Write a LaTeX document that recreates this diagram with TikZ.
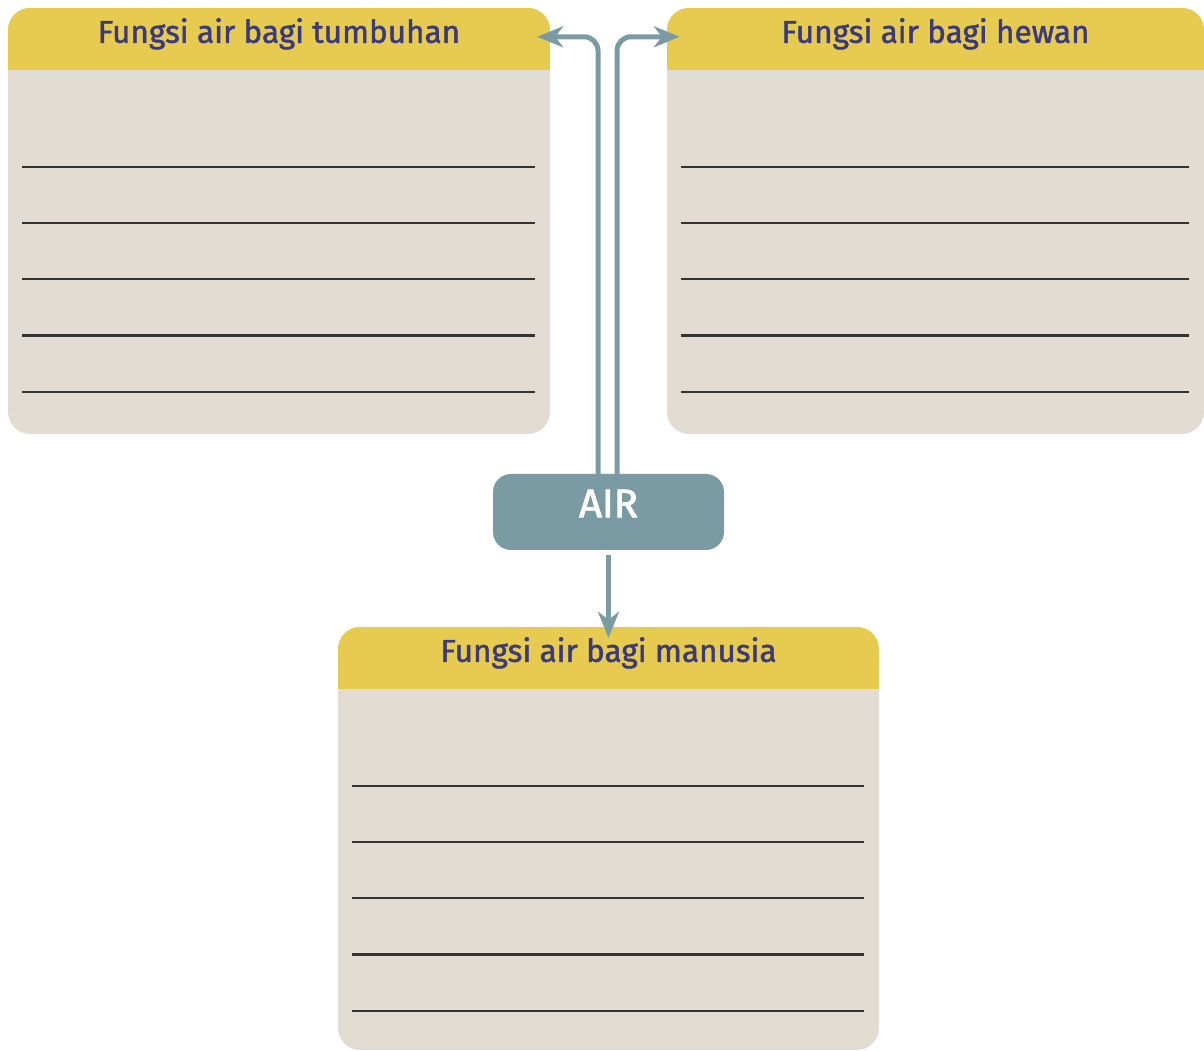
\documentclass[tikz,border=0pt]{standalone}
\usepackage{fontspec}
\setmainfont{Fira Sans}
\newfontfamily\tebal[FakeBold=1.5]{Fira Sans}
\newfontfamily\tebalair[FakeBold=2]{Fira Sans}
\usetikzlibrary{arrows.meta,positioning}
\definecolor{kuning}{HTML}{E6CB50}
\definecolor{krem}{HTML}{E3DCD2}
\definecolor{biru}{HTML}{7A9BA3}
\definecolor{ungu}{HTML}{3B3A7C}
\tikzset{
  panel/.style={fill=krem, rounded corners=22pt, inner sep=0pt,
    minimum width=542pt, minimum height=426pt,
    path picture={\fill[kuning, sharp corners] (path picture bounding box.north west)
      rectangle ([yshift=-62pt]path picture bounding box.north east);}},
  judul/.style={text=ungu, anchor=base, inner sep=0pt, font=\tebal\fontsize{31.5}{32}\selectfont},
  garis/.style={draw=black!80, line width=2.2pt},
  kotak/.style={fill=biru, rounded corners=18pt, minimum width=231pt, minimum height=76pt},
  tulisair/.style={text=white, inner sep=0pt, font=\tebalair\fontsize{40}{40}\selectfont},
  panah/.style={draw=biru, line width=5pt, rounded corners=14pt,
    -{Stealth[length=26pt, width=21pt, inset=8pt]}}
}
\begin{document}
\begin{tikzpicture}[x=1pt, y=1pt]
\useasboundingbox (0,0) rectangle (1204,1051);
% Kotak isian:
\node[panel] (tumbuhan) at (279,830) {};
\node[panel, minimum width=537pt] (hewan) at (935.5,830) {};
\node[panel, minimum width=541pt, minimum height=423pt] (manusia) at (608.5,212.5) {};
% Judul:
\node[judul] at ([yshift=-35pt]tumbuhan.north) {Fungsi air bagi tumbuhan};
\node[judul] at ([yshift=-35pt]hewan.north) {Fungsi air bagi hewan};
\node[judul] at ([yshift=-35pt]manusia.north) {Fungsi air bagi manusia};
% Garis tulis:
\foreach \k in {tumbuhan, hewan, manusia}
  \foreach \i in {0,...,4}
    \draw[garis] ([xshift=14pt, yshift=-159pt-56.25pt*\i]\k.north west)
      -- ([xshift=-15pt, yshift=-159pt-56.25pt*\i]\k.north east);
% Pusat:
\node[kotak] (air) at (608.5,539) {};
\node[tulisair] at ([yshift=8.5pt]air.center) {AIR};
% Panah:
\draw[panah] ([xshift=-10.5pt]air.north) |- ([xshift=-13pt, yshift=-29pt]tumbuhan.north east);
\draw[panah] ([xshift=8.5pt]air.north) |- ([xshift=13pt, yshift=-29pt]hewan.north west);
\draw[panah] ([yshift=-5pt]air.south) -- ([yshift=-11pt]manusia.north);
\end{tikzpicture}
\end{document}
